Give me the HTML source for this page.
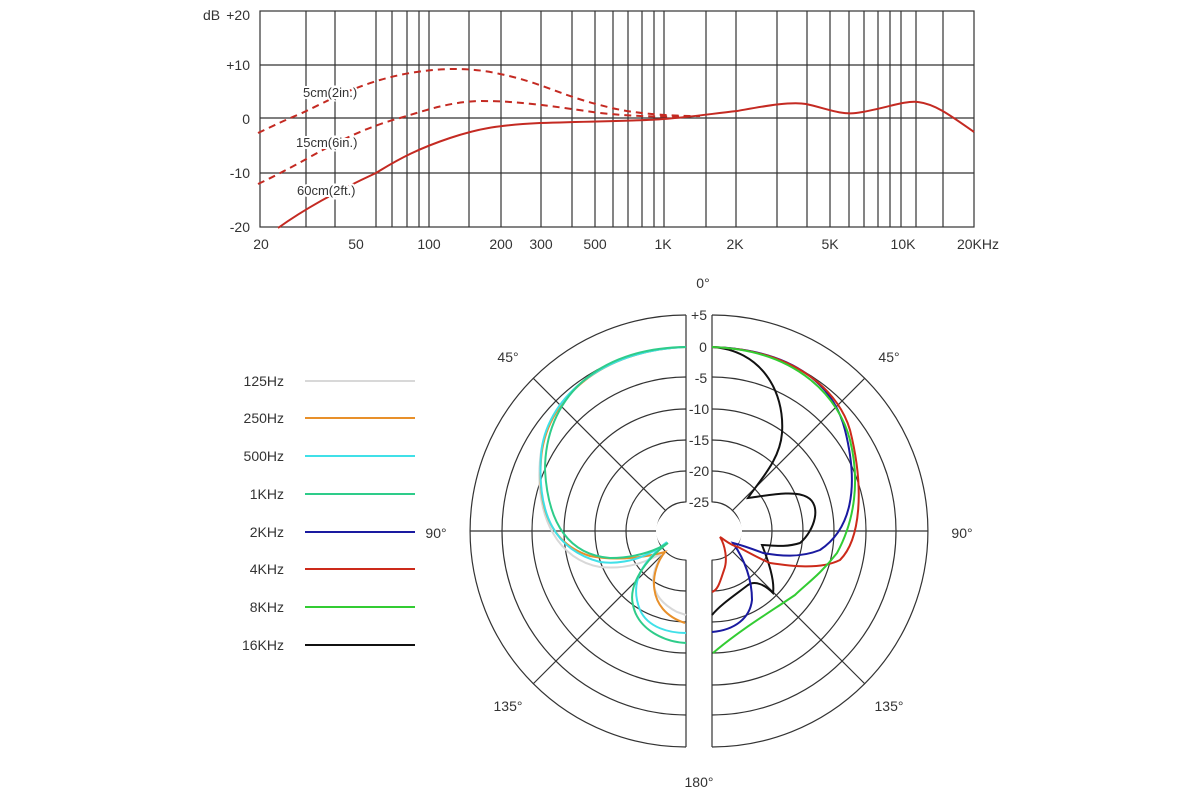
<!DOCTYPE html>
<html><head><meta charset="utf-8"><style>
html,body{margin:0;padding:0;background:#fff;}
svg{display:block;font-family:"Liberation Sans",sans-serif;}
</style></head><body>
<svg width="1200" height="800" viewBox="0 0 1200 800" xmlns="http://www.w3.org/2000/svg">
<rect width="1200" height="800" fill="#fff"/>
<!-- TOP CHART -->
<g stroke="#333" stroke-width="1.2" fill="none">
<rect x="260" y="11" width="714" height="216"/>
<path d="M260 65H974M260 118H974M260 173H974"/>
<path d="M306 11V227M335 11V227M376 11V227M392 11V227M407 11V227M419 11V227M429 11V227M469 11V227M501 11V227M541 11V227M572 11V227M595 11V227M613 11V227M628 11V227M642 11V227M654 11V227M664 11V227M706 11V227M736 11V227M777 11V227M807 11V227M830 11V227M849 11V227M864 11V227M878 11V227M890 11V227M901 11V227M916 11V227M943 11V227"/>
</g>
<g font-size="14" fill="#333">
<text x="203" y="20">dB</text>
<text x="250" y="20" text-anchor="end">+20</text>
<text x="250" y="70" text-anchor="end">+10</text>
<text x="250" y="124" text-anchor="end">0</text>
<text x="250" y="178" text-anchor="end">-10</text>
<text x="250" y="232" text-anchor="end">-20</text>
<g text-anchor="middle">
<text x="261" y="249">20</text><text x="356" y="249">50</text><text x="429" y="249">100</text>
<text x="501" y="249">200</text><text x="541" y="249">300</text><text x="595" y="249">500</text>
<text x="663" y="249">1K</text><text x="735" y="249">2K</text><text x="830" y="249">5K</text>
<text x="903" y="249">10K</text><text x="978" y="249">20KHz</text>
</g>
</g>
<g fill="none" stroke="#c42a22" stroke-width="2">
<path d="M278 228 C310 205 350 185 376 173 C400 158 420 148 450 138 C480 128 500 125 540 123 C600 121 640 121 664 119 C690 117 710 114 737 111 C760 107 790 101 806 104 C825 108 840 115 856 113 C880 110 905 100 918 102 C935 104 950 115 974 132"/>
<path stroke-dasharray="7,5" d="M258 133 C275 125 285 120 300 114 C330 100 360 82 410 73 C440 68 470 67 500 74 C540 82 560 95 600 105 C625 112 650 115 690 116"/>
<path stroke-dasharray="7,5" d="M258 184 C275 176 290 168 310 157 C340 140 370 126 400 118 C430 109 450 102 480 101 C520 101 550 106 600 113 C640 117 665 117 700 116"/>
</g>
<g font-size="13" fill="#333" stroke="#fff" stroke-width="4" paint-order="stroke">
<text x="303" y="97">5cm(2in.)</text>
<text x="296" y="147">15cm(6in.)</text>
<text x="297" y="195">60cm(2ft.)</text>
</g>
<!-- POLAR -->
<g stroke="#333" stroke-width="1.2" fill="none">
<path d="M686 315A216 216 0 0 0 686 747M686 347A184 184 0 0 0 686 715M686 377A154 154 0 0 0 686 685M686 409A122 122 0 0 0 686 653M686 440A91 91 0 0 0 686 622M686 471A60 60 0 0 0 686 591M686 502A29 29 0 0 0 686 560"/>
<path d="M712 315A216 216 0 0 1 712 747M712 347A184 184 0 0 1 712 715M712 377A154 154 0 0 1 712 685M712 409A122 122 0 0 1 712 653M712 440A91 91 0 0 1 712 622M712 471A60 60 0 0 1 712 591M712 502A29 29 0 0 1 712 560"/>
<path d="M686 315V747M712 315V747M470 531H686M712 531H928"/>
<path d="M666 511L533 378M666 551L533 684M732 511L865 378M732 551L865 684"/>
</g>
<ellipse cx="699" cy="531" rx="43" ry="30" fill="#fff"/>
<rect x="687" y="540" width="24" height="210" fill="#fff"/>
<g font-size="14" fill="#333" text-anchor="middle">
<g stroke="#fff" stroke-width="5" paint-order="stroke">
<text x="699" y="320">+5</text><text x="703" y="352">0</text><text x="701" y="383">-5</text>
<text x="699" y="414">-10</text><text x="699" y="445">-15</text><text x="699" y="476">-20</text><text x="699" y="507">-25</text>
</g>
<text x="703" y="288">0°</text>
<text x="508" y="362">45°</text><text x="889" y="362">45°</text>
<text x="436" y="538">90°</text><text x="962" y="538">90°</text>
<text x="508" y="711">135°</text><text x="889" y="711">135°</text>
<text x="699" y="787">180°</text>
</g>
<g fill="none" stroke-width="2">
<path stroke="#d8d8d8" d="M686 347 C600 350 545 400 540 460 C535 520 560 560 600 567 C630 570 650 560 665 552 C650 570 645 595 677 612 L686 615"/>
<path stroke="#e8902a" d="M686 347 C600 350 545 400 541 460 C537 515 555 545 590 556 C620 562 650 556 665 552 C650 570 645 610 685 623"/>
<path stroke="#40e0e8" d="M686 347 C600 350 545 400 541 455 C537 515 555 550 600 562 C630 566 655 552 667 542 C645 560 628 580 640 610 C648 628 670 633 686 633"/>
<path stroke="#2ecc8a" d="M686 347 C595 348 545 400 545 470 C548 525 570 555 610 558 C640 558 660 548 668 543 C645 560 628 585 633 605 C638 630 665 642 686 643"/>
<path stroke="#111" d="M712 347 C760 350 785 390 782 433 C780 460 760 480 748 498 C770 495 795 490 807 497 C822 505 815 530 800 543 C785 548 770 545 762 545 C768 560 775 580 773 593 C765 585 755 580 748 585 C735 595 720 605 712 615"/>
<path stroke="#1a1aa0" d="M712 347 C800 350 835 390 845 430 C860 490 850 530 820 550 C800 558 780 556 763 553 C755 550 745 546 733 543 C745 560 752 580 752 600 C750 618 735 630 712 632"/>
<path stroke="#cc2a1a" d="M712 347 C800 350 840 395 850 430 C865 490 860 540 840 560 C820 570 790 566 770 563 C758 558 748 552 738 547 C730 545 725 540 720 537 C725 545 728 560 724 570 C720 582 718 590 712 592"/>
<path stroke="#33cc33" d="M712 347 C800 350 840 400 850 440 C860 480 855 520 837 553 C820 575 805 585 795 595 C770 612 740 630 713 653"/>
</g>
<!-- LEGEND -->
<g font-size="14" fill="#333" text-anchor="end">
<text x="284" y="386">125Hz</text><text x="284" y="423">250Hz</text><text x="284" y="461">500Hz</text>
<text x="284" y="499">1KHz</text><text x="284" y="537">2KHz</text><text x="284" y="574">4KHz</text>
<text x="284" y="612">8KHz</text><text x="284" y="650">16KHz</text>
</g>
<g stroke-width="2">
<path stroke="#d8d8d8" d="M305 381H415"/><path stroke="#e8902a" d="M305 418H415"/>
<path stroke="#40e0e8" d="M305 456H415"/><path stroke="#2ecc8a" d="M305 494H415"/>
<path stroke="#1a1aa0" d="M305 532H415"/><path stroke="#cc2a1a" d="M305 569H415"/>
<path stroke="#33cc33" d="M305 607H415"/><path stroke="#111" d="M305 645H415"/>
</g>
</svg>
</body></html>
